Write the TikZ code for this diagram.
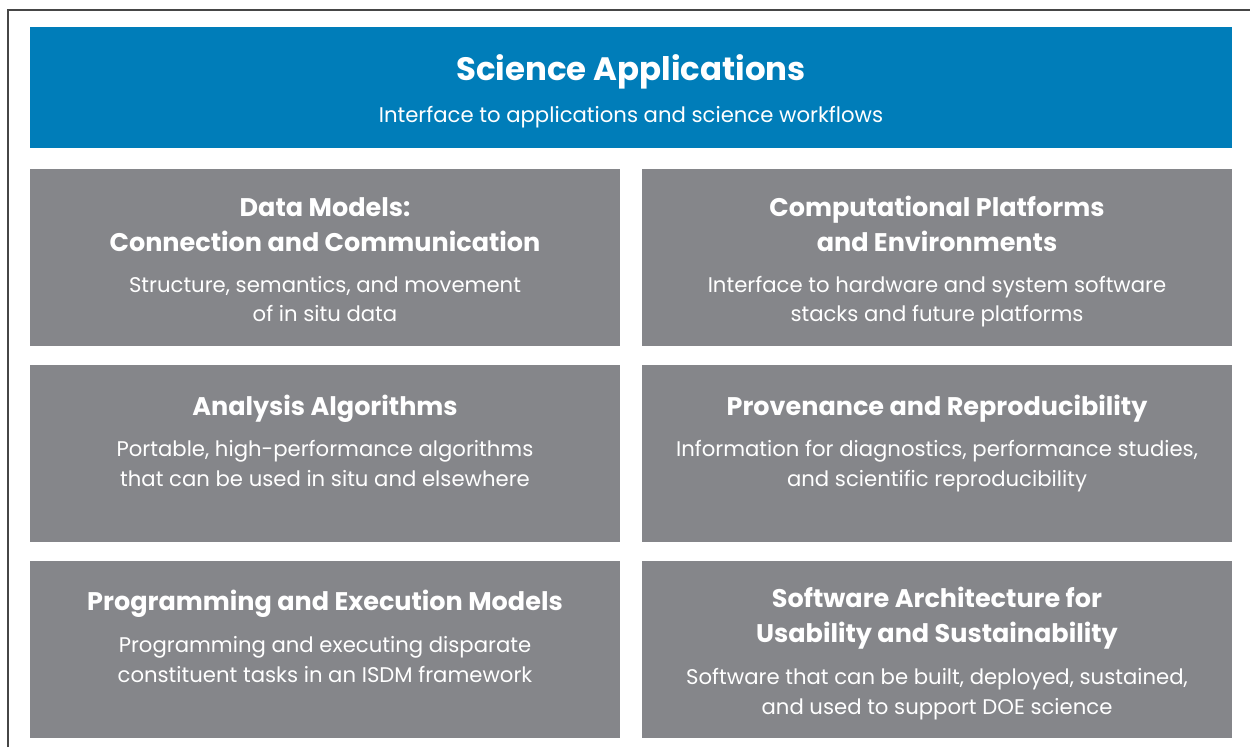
\documentclass[tikz,border=0pt]{standalone}
\usepackage{fontspec}
\setmainfont{Poppins}
\definecolor{sciblue}{RGB}{0,125,185}
\definecolor{panelgray}{RGB}{133,134,138}
\definecolor{framegray}{RGB}{70,70,70}
\begin{document}
\begin{tikzpicture}[x=1pt,y=-1pt,
  panel/.style={fill=panelgray,draw=none,anchor=north west,inner sep=0pt},
  bluepanel/.style={fill=sciblue,draw=none,anchor=north west,inner sep=0pt},
  headline/.style={anchor=base,text=white,font=\fontsize{32.4}{32.4}\selectfont\bfseries,inner sep=0pt},
  titleline/.style={anchor=base,text=white,font=\fontsize{25.5}{25.5}\selectfont\bfseries,inner sep=0pt},
  bodyline/.style={anchor=base,text=white,font=\fontsize{21.2}{21.2}\selectfont,inner sep=0pt}]
\useasboundingbox (0,0) rectangle (1250,747);
\fill[white] (0,0) rectangle (1250,747);
% outer frame, open at right and bottom
\coordinate (fbl) at (8,747);
\coordinate (ftl) at (8,10);
\coordinate (ftr) at (1250,10);
\draw[framegray,line width=1.8pt] (fbl) -- (ftl) -- (ftr);

% top band
\node[bluepanel,minimum width=1202pt,minimum height=121pt] (sci) at (30,27) {};
\node[headline] (sciT) at (631,80) {Science Applications};
\node[bodyline] (sciB) at (631,122) {Interface to applications and science workflows};

% panels
\node[panel,minimum width=590pt,minimum height=177pt] (dm) at (30,169) {};
\node[panel,minimum width=590pt,minimum height=177pt] (cp) at (642,169) {};
\node[panel,minimum width=590pt,minimum height=177pt] (aa) at (30,365) {};
\node[panel,minimum width=590pt,minimum height=177pt] (pr) at (642,365) {};
\node[panel,minimum width=590pt,minimum height=177pt] (pe) at (30,561) {};
\node[panel,minimum width=590pt,minimum height=177pt] (sa) at (642,561) {};

% Data Models
\node[titleline] (dmT1) at (325,216) {Data Models:};
\node[titleline] (dmT2) at (325,251) {Connection and Communication};
\node[bodyline] (dmB1) at (325,292) {Structure, semantics, and movement};
\node[bodyline] (dmB2) at (325,321) {of in situ data};

% Computational Platforms
\node[titleline] (cpT1) at (937,216) {Computational Platforms};
\node[titleline] (cpT2) at (937,251) {and Environments};
\node[bodyline] (cpB1) at (937,292) {Interface to hardware and system software};
\node[bodyline] (cpB2) at (937,321) {stacks and future platforms};

% Analysis Algorithms
\node[titleline] (aaT1) at (325,415) {Analysis Algorithms};
\node[bodyline] (aaB1) at (325,456) {Portable, high-performance algorithms};
\node[bodyline] (aaB2) at (325,486) {that can be used in situ and elsewhere};

% Provenance
\node[titleline] (prT1) at (937,415) {Provenance and Reproducibility};
\node[bodyline] (prB1) at (937,456) {Information for diagnostics, performance studies,};
\node[bodyline] (prB2) at (937,486) {and scientific reproducibility};

% Programming and Execution
\node[titleline] (peT1) at (325,610) {Programming and Execution Models};
\node[bodyline] (peB1) at (325,652) {Programming and executing disparate};
\node[bodyline] (peB2) at (325,682) {constituent tasks in an ISDM framework};

% Software Architecture
\node[titleline] (saT1) at (937,607) {Software Architecture for};
\node[titleline] (saT2) at (937,642) {Usability and Sustainability};
\node[bodyline] (saB1) at (937,684) {Software that can be built, deployed, sustained,};
\node[bodyline] (saB2) at (937,714) {and used to support DOE science};
\end{tikzpicture}
\end{document}
